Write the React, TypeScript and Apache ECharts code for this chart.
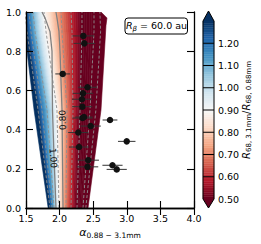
import React, { useEffect, useRef } from 'react';
import * as echarts from 'echarts';

const FONT = 'DejaVu Sans';

// ---- data: contour field (level lines as alpha positions at y knots) ----
const yKnots = [0, 0.5, 0.9, 1.0];
const levelValues = [1.3, 1.2, 1.1, 1.0, 0.9, 0.8, 0.7, 0.6, 0.5, 0.4];
const levelAlphas = [
  [1.857, 1.679, 1.515, 1.485],
  [1.887, 1.738, 1.574, 1.545],
  [1.917, 1.813, 1.634, 1.604],
  [1.946, 1.887, 1.708, 1.679],
  [1.991, 1.961, 1.798, 1.768],
  [2.036, 2.036, 1.917, 1.887],
  [2.095, 2.11, 2.036, 2.021],
  [2.17, 2.199, 2.185, 2.17],
  [2.259, 2.304, 2.333, 2.333],
  [2.348, 2.452, 2.512, 2.512],
];
const leftEdgeAlpha = [1.83, 1.62, 1.48, 1.45];
const rightEdgeY = [0, 0.5, 0.93, 0.97, 1.0];
const rightEdgeAlpha = [2.423, 2.616, 2.69, 2.705, 2.616];

// labelled (solid) contours
const solidY = [0, 0.26, 0.5, 0.8, 0.9, 0.97, 1.0];
const solid100Alpha = [1.946, 1.917, 1.894, 1.887, 1.857, 1.783, 1.738];
const solid080Alpha = [2.051, 2.043, 2.036, 2.006, 1.991, 1.961, 1.946];
const dashedLevelIdx = [0, 1, 2, 4, 6, 7, 8, 9];
const extraDashedAlpha = [2.39, 2.54, 2.61, 2.6];

const contourLabelText = ['0.80', '1.00'];
const contourLabelAlpha = [2.046, 1.905];
const contourLabelY = [0.449, 0.255];

// ---- data: measurements ----
const ptAlpha = [2.353, 2.368, 2.046, 2.415, 2.348, 2.333, 2.338, 2.341, 2.363, 2.75, 2.463, 2.278, 2.999, 2.289, 2.426, 2.415, 2.787, 2.85];
const ptY = [0.878, 0.84, 0.684, 0.616, 0.585, 0.555, 0.517, 0.459, 0.464, 0.449, 0.418, 0.385, 0.34, 0.311, 0.244, 0.21, 0.218, 0.197];
const ptErr = [0.16, 0.16, 0.11, 0.14, 0.15, 0.15, 0.15, 0.15, 0.13, 0.11, 0.15, 0.15, 0.13, 0.15, 0.16, 0.16, 0.15, 0.15];

// ---- colour bar ----
const CB_MIN = 0.5;
const CB_MAX = 1.3;
const cbTickValues = [0.5, 0.6, 0.7, 0.8, 0.9, 1.0, 1.1, 1.2];

const RDBU = ['#67001f', '#b2182b', '#d6604d', '#f4a582', '#fddbc7', '#f7f7f7', '#d1e5f0', '#92c5de', '#4393c3', '#2166ac', '#053061'];
const RDBU_RGB = RDBU.map((h) => [1, 3, 5].map((i) => parseInt(h.slice(i, i + 2), 16)));
function cmap(v: number) {
  const t = Math.min(1, Math.max(0, (v - CB_MIN) / (CB_MAX - CB_MIN)));
  const f = t * 10;
  const i = Math.min(9, Math.floor(f));
  const w = f - i;
  const a = RDBU_RGB[i];
  const b = RDBU_RGB[i + 1];
  const c = a.map((x, k) => Math.round(x + (b[k] - x) * w));
  return `rgb(${c[0]},${c[1]},${c[2]})`;
}

type Band = { pts: number[][]; color: string };
const bands: Band[] = [];
const asc = (al: number[], ys: number[]) => al.map((a, i) => [a, ys[i]]);
const desc = (al: number[], ys: number[]) => asc(al, ys).reverse();
bands.push({ pts: [...asc(leftEdgeAlpha, yKnots), ...desc(levelAlphas[0], yKnots)], color: cmap(99) });
const NSUB = 5;
for (let i = 0; i < levelValues.length - 1; i++) {
  for (let k = 0; k < NSUB; k++) {
    const t0 = k / NSUB;
    const t1 = (k + 1) / NSUB;
    const la = levelAlphas[i].map((a, j) => a + (levelAlphas[i + 1][j] - a) * t0);
    const lb = levelAlphas[i].map((a, j) => a + (levelAlphas[i + 1][j] - a) * t1);
    const v = levelValues[i] + (levelValues[i + 1] - levelValues[i]) * ((k + 0.5) / NSUB);
    bands.push({ pts: [...asc(la, yKnots), ...desc(lb, yKnots)], color: cmap(v) });
  }
}
bands.push({
  pts: [...asc(levelAlphas[levelAlphas.length - 1], yKnots), ...desc(rightEdgeAlpha, rightEdgeY)],
  color: cmap(-99),
});

const cbStrips: number[] = [];
for (let v = CB_MIN; v < CB_MAX - 1e-9; v += 0.01) cbStrips.push(Math.round(v * 100) / 100);

const dashedLines: number[][][] = [
  ...dashedLevelIdx.map((i) => asc(levelAlphas[i], yKnots)),
  asc(extraDashedAlpha, yKnots),
];
const solidLines = [asc(solid100Alpha, solidY), asc(solid080Alpha, solidY)];

const axisCommon = {
  type: 'value' as const,
  splitLine: { show: false },
  axisLine: { lineStyle: { color: '#000', width: 1.3 } },
  axisTick: { inside: true, length: 7, lineStyle: { color: '#000', width: 1.1 } },
  z: 10,
};
const labelStyle = { fontSize: 9.5, color: '#000', fontFamily: FONT };

function buildOption(): any {
  return {
    animation: false,
    backgroundColor: '#fff',
    grid: [
      { left: 26, top: 12, width: 168, height: 196 },
      { left: 203, top: 21, width: 11, height: 178 },
    ],
    xAxis: [
      { ...axisCommon, gridIndex: 0, min: 1.5, max: 4, interval: 0.5, position: 'bottom',
        axisLabel: { ...labelStyle, margin: 5, formatter: (v: number) => v.toFixed(1) } },
      { ...axisCommon, gridIndex: 0, min: 1.5, max: 4, interval: 0.5, position: 'top', axisLabel: { show: false } },
      { type: 'value', gridIndex: 1, min: 0, max: 1, show: false },
    ],
    yAxis: [
      { ...axisCommon, gridIndex: 0, min: 0, max: 1, interval: 0.2, position: 'left',
        axisLabel: { ...labelStyle, margin: 5, formatter: (v: number) => v.toFixed(1) } },
      { ...axisCommon, gridIndex: 0, min: 0, max: 1, interval: 0.2, position: 'right', axisLabel: { show: false } },
      { type: 'value', gridIndex: 1, min: CB_MIN, max: CB_MAX, interval: 0.1, position: 'right',
        splitLine: { show: false }, axisLine: { show: false }, axisTick: { show: false },
        axisLabel: { ...labelStyle, margin: 4, formatter: (v: number) => (cbTickValues.some((t) => Math.abs(t - v) < 1e-6) ? v.toFixed(2) : '') } },
    ],
    series: [
      {
        type: 'custom', xAxisIndex: 0, yAxisIndex: 0, clip: true, silent: true, z: 1,
        data: bands.map((b) => b.pts[0]),
        renderItem: (params: any, api: any) => {
          const b = bands[params.dataIndex];
          return { type: 'polygon', shape: { points: b.pts.map((p) => api.coord(p)) },
            style: { fill: b.color, stroke: b.color, lineWidth: 0.6 } };
        },
      },
      ...dashedLines.map((ln) => ({
        type: 'line', xAxisIndex: 0, yAxisIndex: 0, data: ln, symbol: 'none', silent: true, z: 3, clip: true,
        lineStyle: { color: '#8f8f8f', width: 0.9, type: [3, 2] },
      })),
      ...solidLines.map((ln) => ({
        type: 'line', xAxisIndex: 0, yAxisIndex: 0, data: ln, symbol: 'none', silent: true, z: 3, clip: true,
        lineStyle: { color: '#808080', width: 1.3 },
      })),
      {
        type: 'custom', xAxisIndex: 0, yAxisIndex: 0, silent: true, z: 4,
        data: contourLabelAlpha.map((a, i) => [a, contourLabelY[i]]),
        renderItem: (params: any, api: any) => {
          const i = params.dataIndex;
          const p = api.coord([contourLabelAlpha[i], contourLabelY[i]]);
          return { type: 'text', x: p[0], y: p[1], rotation: i === 0 ? Math.PI / 2 + 0.03 : -Math.PI / 2 + 0.06,
            style: { text: contourLabelText[i], fontSize: 9, fontFamily: FONT, fill: '#111', align: 'center', verticalAlign: 'middle' } };
        },
      },
      {
        type: 'custom', xAxisIndex: 0, yAxisIndex: 0, silent: true, z: 5,
        data: ptAlpha.map((a, i) => [a, ptY[i]]),
        renderItem: (params: any, api: any) => {
          const i = params.dataIndex;
          const p0 = api.coord([ptAlpha[i] - ptErr[i], ptY[i]]);
          const p1 = api.coord([ptAlpha[i] + ptErr[i], ptY[i]]);
          return { type: 'line', shape: { x1: p0[0], y1: p0[1], x2: p1[0], y2: p1[1] }, style: { stroke: '#333', lineWidth: 1 } };
        },
      },
      {
        type: 'scatter', xAxisIndex: 0, yAxisIndex: 0, symbolSize: 6.5, silent: true, z: 6,
        itemStyle: { color: '#111', opacity: 1 },
        data: ptAlpha.map((a, i) => [a, ptY[i]]),
      },
      {
        type: 'custom', xAxisIndex: 2, yAxisIndex: 2, silent: true, z: 2, clip: false,
        data: cbStrips.map((v) => [0, v]),
        renderItem: (params: any, api: any) => {
          const v = cbStrips[params.dataIndex];
          const a = api.coord([0, v]);
          const b = api.coord([1, v + 0.01]);
          const c = cmap(v + 0.005);
          return { type: 'rect', shape: { x: a[0], y: b[1], width: b[0] - a[0], height: a[1] - b[1] },
            style: { fill: c, stroke: c, lineWidth: 0.4 } };
        },
      },
      {
        type: 'custom', xAxisIndex: 2, yAxisIndex: 2, silent: true, z: 3, clip: false,
        data: [[0, CB_MIN]],
        renderItem: (params: any, api: any) => {
          const bl = api.coord([0, CB_MIN]);
          const br = api.coord([1, CB_MIN]);
          const tl = api.coord([0, CB_MAX]);
          const tr = api.coord([1, CB_MAX]);
          const cx = (bl[0] + br[0]) / 2;
          const topApex = [cx, tl[1] - 10];
          const botApex = [cx, bl[1] + 9];
          const children: any[] = [
            { type: 'polygon', shape: { points: [tl, tr, topApex] }, style: { fill: cmap(99) } },
            { type: 'polygon', shape: { points: [bl, br, botApex] }, style: { fill: cmap(-99) } },
          ];
          cbTickValues.slice(1).forEach((v) => {
            const l = api.coord([0, v]);
            const r = api.coord([1, v]);
            children.push({ type: 'line', shape: { x1: l[0], y1: l[1], x2: r[0], y2: r[1] }, style: { stroke: '#000', lineWidth: 1 } });
          });
          children.push({ type: 'polygon', shape: { points: [bl, tl, topApex, tr, br, botApex] },
            style: { fill: 'none', stroke: '#000', lineWidth: 1 } });
          return { type: 'group', children };
        },
      },
    ],
    graphic: [
      { type: 'rect', shape: { x: 125, y: 18, width: 62.5, height: 16, r: 3 }, style: { fill: '#fff', stroke: '#000', lineWidth: 1 }, z: 20 },
      { type: 'text', x: 156.5, y: 25.5, z: 21,
        style: { text: '{i|R}{s|β}{n| = 60.0 au}', align: 'center', verticalAlign: 'middle',
          rich: {
            i: { fontFamily: FONT, fontStyle: 'italic', fontSize: 9.5, lineHeight: 13, fill: '#000' },
            s: { fontFamily: FONT, fontStyle: 'italic', fontSize: 7, lineHeight: 7, verticalAlign: 'bottom', fill: '#000' },
            n: { fontFamily: FONT, fontSize: 9.5, lineHeight: 13, fill: '#000' },
          } } },
      { type: 'text', x: 110, y: 232,
        style: { text: '{a|α}{s|0.88 − 3.1mm}', align: 'center', verticalAlign: 'middle',
          rich: {
            a: { fontFamily: FONT, fontStyle: 'italic', fontSize: 11, lineHeight: 14, fill: '#000' },
            s: { fontFamily: FONT, fontSize: 7.5, lineHeight: 8, verticalAlign: 'bottom', fill: '#000' },
          } } },
      { type: 'text', x: 246, y: 110, rotation: Math.PI / 2,
        style: { text: '{i|R}{s|68, 3.1mm}{n|/}{i|R}{s|68, 0.88mm}', align: 'center', verticalAlign: 'middle',
          rich: {
            i: { fontFamily: FONT, fontStyle: 'italic', fontSize: 10, lineHeight: 13, fill: '#000' },
            n: { fontFamily: FONT, fontSize: 10, lineHeight: 13, fill: '#000' },
            s: { fontFamily: FONT, fontSize: 7, lineHeight: 7, verticalAlign: 'bottom', fill: '#000' },
          } } },
    ],
  };
}

export default function App() {
  const ref = useRef<HTMLDivElement>(null);
  useEffect(() => {
    if (!ref.current) return;
    const chart = echarts.init(ref.current, null, { renderer: 'svg' });
    chart.setOption(buildOption());
    return () => chart.dispose();
  }, []);
  return <div ref={ref} style={{ position: 'absolute', left: 0, top: 0, width: 261, height: 244 }} />;
}
